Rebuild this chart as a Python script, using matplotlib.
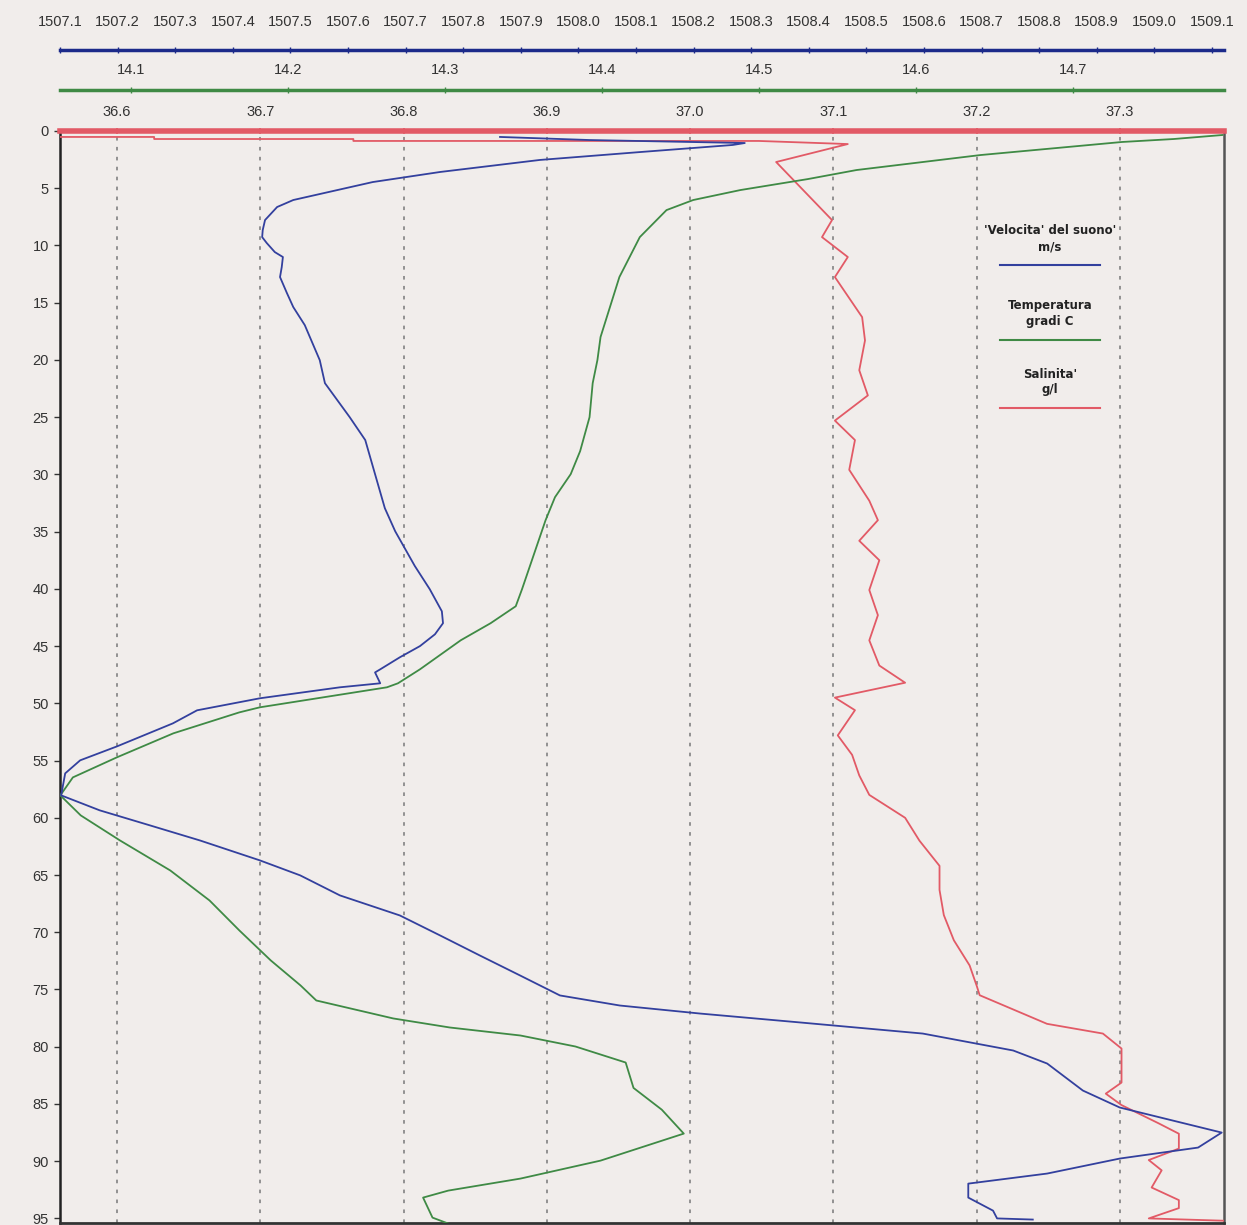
import numpy as np
import matplotlib.pyplot as plt

plt.rcParams['font.family'] = ['Liberation Sans', 'DejaVu Sans']

# profondita' (m) e valori misurati
vel_depth = [0.52, 0.79, 1.05, 1.22, 1.84, 2.53, 3.58, 4.46, 6.03, 6.64, 7.78, 8.65, 9.27, 9.79,
             10.58, 11.01, 11.89, 12.76, 14.16, 15.38, 16.96, 20.02, 22.03, 25.0, 27.0, 29.98,
             32.95, 34.97, 38.0, 40.03, 41.96, 43.0, 43.97, 45.0, 45.98, 47.03, 47.3, 48.25,
             48.6, 49.56, 50.61, 51.75, 53.76, 54.98, 56.12, 58.04, 59.35, 60.66, 61.98, 63.72,
             65.03, 66.78, 68.53, 70.28, 72.03, 73.78, 75.52, 76.4, 77.1, 77.88, 78.85, 80.33,
             81.47, 83.83, 85.31, 87.5, 88.81, 89.77, 91.08, 91.96, 93.18, 94.32, 95.0, 95.1]
vel = [1507.864, 1508.020, 1508.289, 1508.268, 1508.107, 1507.933, 1507.760, 1507.643,
       1507.505, 1507.477, 1507.456, 1507.452, 1507.451, 1507.459, 1507.473, 1507.487,
       1507.485, 1507.482, 1507.494, 1507.505, 1507.525, 1507.551, 1507.560, 1507.603,
       1507.630, 1507.647, 1507.664, 1507.682, 1507.716, 1507.742, 1507.763, 1507.765,
       1507.751, 1507.725, 1507.690, 1507.656, 1507.647, 1507.656, 1507.586, 1507.447,
       1507.338, 1507.296, 1507.199, 1507.135, 1507.109, 1507.102, 1507.169, 1507.256,
       1507.343, 1507.447, 1507.517, 1507.586, 1507.690, 1507.760, 1507.829, 1507.899,
       1507.968, 1508.072, 1508.211, 1508.385, 1508.598, 1508.755, 1508.814, 1508.876,
       1508.940, 1509.117, 1509.076, 1508.940, 1508.814, 1508.677, 1508.677, 1508.720,
       1508.727, 1508.789]

temp_depth = [0.35, 0.70, 0.96, 2.10, 3.41, 4.20, 5.16, 6.03, 6.91, 9.27, 12.76, 15.38, 18.0,
              20.02, 22.03, 25.0, 27.97, 29.98, 31.99, 34.0, 36.01, 38.02, 40.03, 41.52, 43.0,
              44.49, 47.03, 48.25, 48.6, 50.35, 50.79, 52.62, 54.72, 56.47, 58.04, 59.79,
              61.98, 64.6, 67.22, 69.84, 72.46, 74.65, 75.96, 77.53, 78.32, 79.02, 79.98,
              81.38, 83.6, 85.5, 87.59, 89.95, 91.52, 92.57, 93.18, 94.93, 95.5]
temp = [14.795, 14.764, 14.731, 14.641, 14.562, 14.531, 14.488, 14.458, 14.441, 14.424, 14.411,
        14.405, 14.399, 14.397, 14.394, 14.392, 14.386, 14.380, 14.370, 14.364, 14.359, 14.354,
        14.349, 14.345, 14.329, 14.310, 14.284, 14.270, 14.263, 14.182, 14.169, 14.127, 14.091,
        14.063, 14.055, 14.068, 14.093, 14.125, 14.150, 14.169, 14.189, 14.208, 14.218, 14.267,
        14.303, 14.348, 14.383, 14.415, 14.420, 14.438, 14.452, 14.399, 14.348, 14.302, 14.286,
        14.292, 14.303]

sal_depth = [0.52, 0.52, 0.7, 0.7, 0.87, 0.87, 1.14, 2.71, 7.78, 9.27, 11.01, 12.76, 16.26,
             18.3, 20.9, 23.1, 25.3, 27.0, 29.6, 32.3, 34.0, 35.8, 37.5, 40.1, 42.3, 44.5, 46.7,
             48.2, 49.5, 50.6, 52.8, 54.5, 56.3, 58.0, 60.0, 62.0, 64.2, 66.3, 68.5, 70.7, 72.9,
             74.7, 75.5, 78.0, 78.85, 80.16, 83.13, 84.1, 85.1, 86.7, 87.6, 88.9, 89.9, 90.8,
             92.3, 93.4, 94.1, 95.0, 95.2]
sal = [36.559, 36.626, 36.626, 36.765, 36.765, 37.048, 37.110, 37.060, 37.099, 37.092, 37.110,
       37.101, 37.120, 37.122, 37.118, 37.124, 37.101, 37.115, 37.111, 37.125, 37.131, 37.118,
       37.132, 37.125, 37.131, 37.125, 37.132, 37.150, 37.101, 37.115, 37.103, 37.113, 37.118,
       37.125, 37.150, 37.160, 37.174, 37.174, 37.177, 37.184, 37.195, 37.200, 37.202, 37.249,
       37.288, 37.301, 37.301, 37.290, 37.301, 37.327, 37.341, 37.341, 37.320, 37.329, 37.322,
       37.341, 37.341, 37.320, 37.372]

depth_ticks = np.arange(0, 96, 5)
vel_ticks = np.round(np.arange(1507.1, 1509.15, 0.1), 1)
temp_ticks = [14.1, 14.2, 14.3, 14.4, 14.5, 14.6, 14.7]
sal_ticks = [36.6, 36.7, 36.8, 36.9, 37.0, 37.1, 37.2, 37.3]

BLUE = '#33409e'
GREEN = '#3f8a45'
RED = '#e25a66'
BG = '#f1edeb'
PX = 72 / 100  # punti per pixel a dpi 100

W, H = 1247, 1225
fig = plt.figure(figsize=(W / 100, H / 100), dpi=100, facecolor=BG)
ax = fig.add_axes([60 / W, 1 - 1223 / H, 1164 / W, 1092 / H], facecolor=BG)

# temperatura
ax_t = ax.twiny()
ax_t.plot(temp, temp_depth, color=GREEN, lw=1.3, zorder=3)
ax_t.set_xlim(14.0548, 14.796)
ax_t.set_xticks(temp_ticks)
ax_t.set_xticklabels([f'{v:.1f}' for v in temp_ticks])
ax_t.spines['top'].set_position(('outward', 41 * PX))
ax_t.spines['top'].set_color(GREEN)
ax_t.spines['top'].set_linewidth(2.5)
for s in ['left', 'right', 'bottom']:
    ax_t.spines[s].set_visible(False)
ax_t.tick_params(axis='x', length=4, width=1, color=GREEN, direction='inout', pad=7,
                 labelsize=10.5, labelcolor='#333333')

# velocita' del suono
ax_v = ax.twiny()
ax_v.plot(vel, vel_depth, color=BLUE, lw=1.3, zorder=3)
ax_v.set_xlim(1507.1, 1509.121)
ax_v.set_xticks(vel_ticks)
ax_v.set_xticklabels([f'{v:.1f}' for v in vel_ticks])
ax_v.spines['top'].set_position(('outward', 81 * PX))
ax_v.spines['top'].set_color('#1c2a8a')
ax_v.spines['top'].set_linewidth(2.5)
for s in ['left', 'right', 'bottom']:
    ax_v.spines[s].set_visible(False)
ax_v.tick_params(axis='x', length=4, width=1, color='#1c2a8a', direction='inout', pad=13,
                 labelsize=10.5, labelcolor='#333333')

# salinita' sull'asse principale
ax.plot(sal, sal_depth, color=RED, lw=1.3, zorder=3)
ax.set_xlim(36.5603, 37.3725)
ax.set_ylim(95.4, 0)
ax.set_yticks(depth_ticks)
ax.set_xticks(sal_ticks)
ax.set_xticklabels([f'{v:.1f}' for v in sal_ticks])
ax.xaxis.tick_top()
ax.tick_params(axis='x', top=True, bottom=False, labeltop=True, labelbottom=False,
               length=5, width=1.2, color=RED, direction='inout', pad=6,
               labelsize=10.5, labelcolor='#333333')
ax.tick_params(axis='y', length=4, width=1, color='#333333', labelsize=10.5,
               labelcolor='#333333', pad=4)
ax.grid(axis='x', color='#8a8a8a', linestyle=(0, (2, 3.5)), lw=1.3)
ax.spines['top'].set_color(RED)
ax.spines['top'].set_linewidth(4)
ax.spines['left'].set_color('#222222')
ax.spines['left'].set_linewidth(1.8)
ax.spines['right'].set_color('#555555')
ax.spines['right'].set_linewidth(1.8)
ax.spines['bottom'].set_color('#333333')
ax.spines['bottom'].set_linewidth(2)

# legenda
leg = [("'Velocita' del suono'\nm/s", BLUE, 265),
       ('Temperatura\ngradi C', GREEN, 340),
       ("Salinita'\ng/l", RED, 408)]
for txt, col, py in leg:
    yy = 1 - py / H
    fig.text(1050 / W, yy + 12 / H, txt, ha='center', va='bottom', fontsize=8.5,
             fontweight='bold', color='#222222', linespacing=1.25,
             family=['DejaVu Sans'])
    fig.add_artist(plt.Line2D([1000 / W, 1100 / W], [yy, yy], color=col, lw=1.5))

fig.savefig('out.png', dpi=100, facecolor=BG)
